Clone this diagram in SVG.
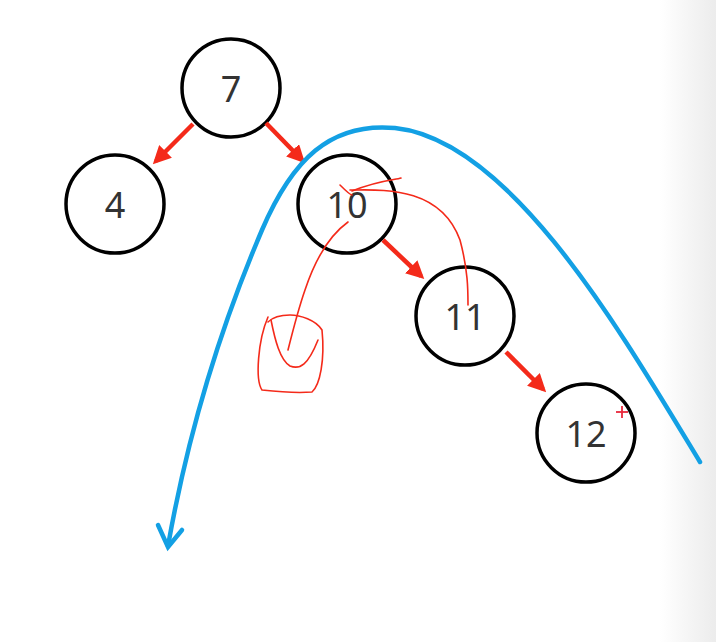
<svg xmlns="http://www.w3.org/2000/svg" width="716" height="642" viewBox="0 0 716 642">
<style>
.n{fill:#fff;stroke:#000;stroke-width:3.5}
.t{font-family:"Noto Sans","Liberation Sans",sans-serif;font-size:36px;fill:#333;text-anchor:middle;dominant-baseline:central}
.e{stroke:#f42a1a;stroke-width:4.5;fill:none;marker-end:url(#a)}
.h{stroke:#f42a1a;stroke-width:1.6;fill:none;stroke-linecap:round;stroke-linejoin:round}
</style>
<defs>
<marker id="a" markerWidth="4" markerHeight="4" refX="3" refY="2" orient="auto"><path d="M0,0L4,2L0,4Z" fill="#f42a1a"/></marker>
<linearGradient id="g" x1="0" x2="1"><stop offset="0" stop-color="#fff"/><stop offset="1" stop-color="#ececec"/></linearGradient>
</defs>
<rect width="716" height="642" fill="#fff"/>
<rect x="660" y="0" width="56" height="642" fill="url(#g)"/>
<g id="n7"><circle class="n" cx="231" cy="88" r="49"/><text class="t" x="231" y="88">7</text></g>
<g id="n4"><circle class="n" cx="115" cy="204" r="49"/><text class="t" x="115" y="204">4</text></g>
<g id="n10"><circle class="n" cx="347" cy="204" r="49"/><text class="t" x="347" y="204">10</text></g>
<g id="n11"><circle class="n" cx="465" cy="316" r="49"/><text class="t" x="465" y="316">11</text></g>
<g id="n12"><circle class="n" cx="586" cy="433" r="49"/><text class="t" x="586" y="433">12</text></g>
<g id="connectors">
<line class="e" x1="193" y1="124" x2="156" y2="161"/>
<line class="e" x1="266" y1="123" x2="302" y2="160"/>
<line class="e" x1="383" y1="240" x2="421" y2="276"/>
<line class="e" x1="506" y1="352" x2="543" y2="389"/>
</g>
<g id="blue" fill="none" stroke="#13a0e4" stroke-width="4.5" stroke-linecap="round">
<path d="M700,462 C620,330 510,140 395,128 C330,122 292,160 262,230 C215,340 185,450 168,546"/>
<path d="M158,525 L168,547 L182,530"/>
</g>
<g id="ink" class="h">
<path d="M352,191 C380,180 395,180 401,178"/>
<path d="M350,190 C380,190 440,185 460,240 C468,270 468,290 468,305"/>
<path d="M340,185 C345,190 350,195 352,195"/>
<path d="M348,222 C330,235 315,260 305,290 C298,310 293,330 288,350"/>
<path d="M271,320 C275,340 280,360 290,366 C300,370 308,365 318,340"/>
<path d="M268,317 C258,340 255,380 262,390 C280,392 300,393 312,392 C320,385 325,360 322,330 C316,320 300,315 290,315 C280,315 272,318 268,322"/>
</g>
<g id="cursor" stroke="#e8283c" stroke-width="1.8"><line x1="616" y1="412" x2="628" y2="412"/><line x1="622" y1="406" x2="622" y2="418"/></g>
</svg>
